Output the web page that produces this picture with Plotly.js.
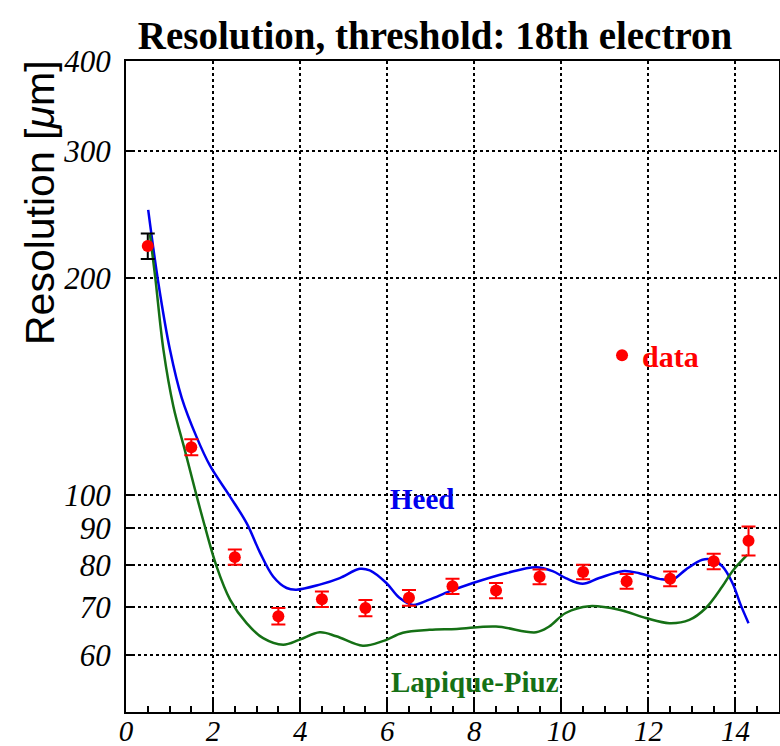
<!DOCTYPE html>
<html>
<head>
<meta charset="utf-8">
<script src="https://cdn.plot.ly/plotly-3.0.1.min.js"></script>
<style>html,body{margin:0;padding:0;background:#fff;}#chart{width:780px;height:746px;}</style>
</head>
<body>
<div id="chart"></div>
<script>
// Measured data points
const dataX   = [0.5, 1.5, 2.5, 3.5, 4.5, 5.5, 6.5, 7.5, 8.5, 9.5, 10.5, 11.5, 12.5, 13.5, 14.3];
const dataY   = [221.5, 116.5, 82.0, 67.9, 71.7, 69.7, 72.0, 74.7, 73.7, 77.0, 78.2, 75.9, 76.5, 80.9, 86.4];
const dataErr = [9, 3, 2.0, 1.8, 1.8, 1.8, 1.8, 1.8, 1.8, 1.8, 1.8, 1.8, 1.8, 2.0, 4.0];

// Heed simulation curve
const heedX = [0.51, 0.74, 1.01, 1.28, 1.62, 1.93, 2.39, 2.78, 3.07, 3.38, 3.69, 3.91, 4.45, 4.91, 5.37, 5.6, 5.98, 6.28, 6.59, 6.97, 7.43, 7.97, 8.73, 9.42, 9.8, 10.1, 10.49, 10.87, 11.41, 11.79, 12.25, 12.55, 12.86, 13.24, 13.47, 13.7, 13.93, 14.12, 14.3];
const heedY = [248.6, 197.5, 159.0, 136.4, 120.4, 109.8, 99.5, 91.2, 83.4, 77.1, 74.3, 73.9, 75.1, 76.7, 79.0, 78.6, 75.5, 72.0, 70.4, 71.6, 73.5, 75.5, 77.9, 79.4, 78.4, 76.7, 75.3, 76.7, 78.4, 77.9, 76.5, 76.3, 78.8, 81.3, 81.3, 79.6, 75.5, 70.4, 66.4];

// Lapique-Piuz simulation curve
const lpX = [0.55, 0.67, 0.86, 1.09, 1.35, 1.58, 1.77, 2.08, 2.39, 2.77, 3.15, 3.61, 3.99, 4.45, 4.83, 5.44, 5.9, 6.36, 6.97, 7.6, 8.5, 9.42, 9.72, 10.1, 10.64, 11.33, 11.94, 12.48, 12.94, 13.32, 13.7, 13.93, 14.27];
const lpY = [230.0, 200.9, 159.0, 132.6, 115.5, 102.0, 92.4, 79.6, 71.6, 66.4, 63.3, 62.0, 63.0, 64.5, 63.7, 61.8, 62.7, 64.4, 65.0, 65.2, 65.7, 64.5, 65.7, 68.6, 70.1, 69.3, 67.5, 66.4, 67.1, 69.7, 74.7, 78.4, 82.6];

const xTicks = [0, 2, 4, 6, 8, 10, 12, 14];
const yTicks = [60, 70, 80, 90, 100, 200, 300, 400];
const yTickText = ['60', '70', '80', '90', '100', '200', '300', '400'];

const serif = 'Liberation Serif, Times New Roman, serif';
const sans = 'Liberation Sans, Arial, sans-serif';

const traces = [
  {x: heedX, y: heedY, mode: 'lines', line: {color: '#0000ee', width: 2.5, shape: 'spline', smoothing: 1}, showlegend: false, hoverinfo: 'skip'},
  {x: lpX, y: lpY, mode: 'lines', line: {color: '#157015', width: 2.5, shape: 'spline', smoothing: 1}, showlegend: false, hoverinfo: 'skip'},
  {x: dataX.slice(0, 1), y: dataY.slice(0, 1), mode: 'markers', marker: {color: '#ff0000', size: 12},
   error_y: {type: 'data', array: dataErr.slice(0, 1), color: '#000000', thickness: 2, width: 7}, showlegend: false},
  {x: dataX.slice(1), y: dataY.slice(1), mode: 'markers', name: 'data', marker: {color: '#ff0000', size: 12},
   error_y: {type: 'data', array: dataErr.slice(1), color: '#ff0000', thickness: 2, width: 7}, showlegend: true}
];

const layout = {
  width: 780, height: 746,
  margin: {l: 126, r: 1, t: 61, b: 34, pad: 0},
  paper_bgcolor: '#ffffff', plot_bgcolor: '#ffffff',
  title: {text: '<b>Resolution, threshold: 18th electron</b>', font: {family: serif, size: 39, color: '#000'},
          x: 0.5577, xanchor: 'center', xref: 'container', y: 0.952, yanchor: 'middle', yref: 'container'},
  xaxis: {range: [0, 15], tickvals: xTicks, ticktext: xTicks.map(String), ticks: 'inside', ticklen: 12, tickwidth: 2, tickcolor: '#000',
          minor: {dtick: 0.5, ticks: 'inside', ticklen: 6, tickwidth: 2, tickcolor: '#000', showgrid: false},
          showline: true, linewidth: 2, linecolor: '#000', mirror: true,
          showgrid: true, gridcolor: '#000', griddash: 'dot', gridwidth: 2, zeroline: false,
          tickfont: {family: serif, size: 29, color: '#000', style: 'italic'}, ticklabelstandoff: -8},
  yaxis: {type: 'log', range: [Math.log10(50), Math.log10(400)], tickvals: yTicks, ticktext: yTickText,
          ticks: 'inside', ticklen: 8, tickwidth: 2, tickcolor: '#000',
          showline: true, linewidth: 2, linecolor: '#000', mirror: true,
          showgrid: true, gridcolor: '#000', griddash: 'dot', gridwidth: 2, zeroline: false,
          tickfont: {family: serif, size: 31, color: '#000', style: 'italic'}, ticklabelstandoff: 7},
  showlegend: true,
  legend: {x: 0.729, y: 0.548, xanchor: 'left', yanchor: 'middle', bgcolor: 'rgba(0,0,0,0)',
           font: {family: serif, size: 30, color: '#ff0000', weight: 'bold'}, itemwidth: 30},
  annotations: [
    {xref: 'paper', yref: 'paper', x: -0.1317, y: 0.7834, xanchor: 'center', yanchor: 'middle', textangle: -90,
     text: 'Resolution [<i>μ</i>m]', showarrow: false, font: {family: sans, size: 41, color: '#000'}},
    {xref: 'paper', yref: 'paper', x: 0.4533, y: 0.3272, xanchor: 'center', yanchor: 'middle',
     text: '<b>Heed</b>', showarrow: false, font: {family: serif, size: 29, color: '#0000ee'}},
    {xref: 'paper', yref: 'paper', x: 0.5345, y: 0.0461, xanchor: 'center', yanchor: 'middle',
     text: '<b>Lapique-Piuz</b>', showarrow: false, font: {family: serif, size: 29, color: '#157015'}}
  ]
};

Plotly.newPlot('chart', traces, layout, {staticPlot: true, displayModeBar: false});
</script>
</body>
</html>
